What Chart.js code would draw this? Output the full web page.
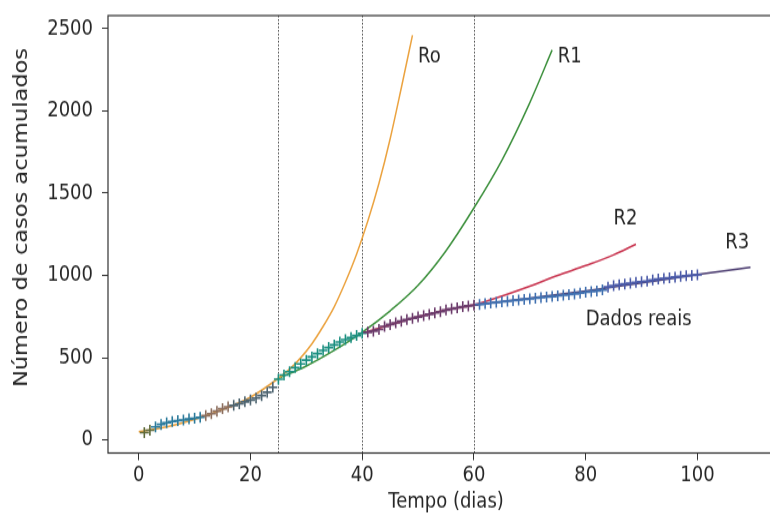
<!DOCTYPE html>
<html>
<head>
<meta charset="utf-8">
<script src="https://cdn.jsdelivr.net/npm/chart.js@4.4.1/dist/chart.umd.min.js"></script>
<style>
  html, body { margin: 0; padding: 0; background: #fff; overflow: hidden; }
  #pagina { width: 770px; height: 516px; overflow: hidden; }
  /* the reference picture is stretched vertically, so the chart is drawn flat and scaled */
  #wrap { width: 800px; height: 430px; transform: scale(1, 1.2); transform-origin: 0 0; }
</style>
</head>
<body>
<div id="pagina"><div id="wrap"><canvas id="grafico" width="800" height="430"></canvas></div></div>
<script>
"use strict";

// casos acumulados, dias 1 a 100
const casos = [
  45, 60, 80, 95, 105, 112, 118, 122, 128, 132,
  138, 148, 160, 175, 190, 202, 210, 220, 232, 243,
  255, 270, 290, 320, 370, 395, 415, 440, 462, 485,
  505, 525, 545, 562, 578, 595, 610, 622, 635, 648,
  655, 662, 672, 690, 702, 712, 722, 732, 740, 748,
  756, 764, 772, 780, 790, 797, 803, 810, 815, 820,
  824, 828, 832, 836, 840, 843, 847, 851, 855, 858,
  862, 866, 869, 872, 876, 880, 884, 888, 893, 898,
  902, 906, 912, 930, 938, 944, 948, 953, 958, 962,
  966, 972, 978, 982, 986, 990, 994, 998, 1001, 1004
];

// curvas ajustadas
const roDias = [0, 5, 10, 15, 20, 25, 27, 29, 31, 33, 35, 37, 39, 41, 43, 45, 47, 49];
const roValores = [50, 80, 125, 185, 260, 375, 430, 500, 585, 690, 810, 960, 1130, 1330, 1560, 1830, 2140, 2460];

const r1Dias = [25, 30, 35, 40, 45, 50, 55, 60, 65, 70, 74];
const r1Valores = [375, 450, 545, 655, 785, 940, 1150, 1410, 1700, 2050, 2370];

const r2Dias = [40, 45, 50, 55, 60, 65, 70, 75, 80, 85, 89];
const r2Valores = [650, 700, 748, 790, 822, 875, 935, 1000, 1060, 1125, 1190];

const r3Dias = [60, 70, 80, 90, 100, 109.5];
const r3Valores = [820, 862, 905, 955, 1005, 1050];

const xTicks = [0, 20, 40, 60, 80, 100];
const yTicks = [0, 500, 1000, 1500, 2000, 2500];
const marcos = [25, 40, 60];

const rotulos = [
  { texto: "Ro", x: 50, y: 2330 },
  { texto: "R1", x: 75, y: 2330 },
  { texto: "R2", x: 85, y: 1345 },
  { texto: "R3", x: 105, y: 1198 },
  { texto: "Dados reais", x: 80, y: 730 }
];

const fonte = { family: "DejaVu Sans", size: 18 };
const corTexto = "#262626";

const pares = (xs, ys) => xs.map((x, i) => ({ x: x, y: ys[i] }));

const corMarcador = function (dia) {
  if (dia <= 2) return "#5e6a3a";
  if (dia <= 11) return "#2b7a9b";
  if (dia <= 16) return "#8c6e5e";
  if (dia <= 24) return "#4e6470";
  if (dia <= 40) return "#1b8f80";
  if (dia <= 60) return "#6b3b6b";
  if (dia <= 83) return "#4070b0";
  return "#4a5aa8";
};

const pontos = casos.map((v, i) => ({ x: i + 1, y: v }));

const curva = (dados, cor) => ({
  type: "line",
  data: dados,
  borderColor: cor,
  borderWidth: 1.5,
  pointRadius: 0,
  fill: false,
  cubicInterpolationMode: "monotone",
  order: 1
});

const moldura = {
  id: "moldura",
  beforeDatasetsDraw(chart) {
    const { ctx, chartArea, scales } = chart;
    ctx.save();
    ctx.strokeStyle = "#222";
    ctx.lineWidth = 0.8;
    ctx.setLineDash([1.5, 1.5]);
    marcos.forEach((m) => {
      const x = Math.round(scales.x.getPixelForValue(m)) + 0.5;
      ctx.beginPath();
      ctx.moveTo(x, chartArea.top);
      ctx.lineTo(x, chartArea.bottom);
      ctx.stroke();
    });
    ctx.restore();
  },
  afterDatasetsDraw(chart) {
    const { ctx, chartArea, scales } = chart;
    ctx.save();
    ctx.fillStyle = corTexto;
    ctx.font = `${fonte.size}px ${fonte.family}`;
    ctx.textBaseline = "middle";
    ctx.textAlign = "left";
    rotulos.forEach((r) => {
      ctx.fillText(r.texto, scales.x.getPixelForValue(r.x), scales.y.getPixelForValue(r.y));
    });
    ctx.strokeStyle = "#333";
    ctx.lineWidth = 1.2;
    ctx.strokeRect(chartArea.left, chartArea.top, chartArea.right - chartArea.left, chartArea.bottom - chartArea.top);

    // título do eixo y, um pouco acima do centro como na figura original
    ctx.translate(22, (chartArea.top + chartArea.bottom) / 2 - 14);
    ctx.rotate(-Math.PI / 2);
    ctx.textAlign = "center";
    ctx.font = `18.8px ${fonte.family}`;
    ctx.fillText("Número de casos acumulados", 0, 0);
    ctx.restore();
  }
};

const eixo = {
  display: true,
  drawOnChartArea: false,
  drawTicks: true,
  tickLength: 6,
  color: "#333",
  lineWidth: 1
};

const semPadding = (s) => {
  s.paddingTop = 0;
  s.paddingBottom = 0;
  s.paddingLeft = 0;
  s.paddingRight = 0;
};

new Chart(document.getElementById("grafico"), {
  type: "scatter",
  data: {
    datasets: [
      {
        label: "Dados reais",
        data: pontos,
        pointStyle: "cross",
        pointRadius: 4.5,
        pointBorderWidth: 1.6,
        pointBorderColor: pontos.map((p) => corMarcador(p.x)),
        pointBackgroundColor: pontos.map((p) => corMarcador(p.x)),
        order: 0
      },
      curva(pares(roDias, roValores), "#eba23e"),
      curva(pares(r1Dias, r1Valores), "#3b8f3b"),
      curva(pares(r2Dias, r2Valores), "#c8344f"),
      curva(pares(r3Dias, r3Valores), "#4b3c70")
    ]
  },
  options: {
    responsive: false,
    animation: false,
    layout: { padding: { left: 0, top: 13, right: 16, bottom: 0 } },
    plugins: { legend: { display: false }, tooltip: { enabled: false } },
    scales: {
      x: {
        type: "linear",
        min: -5.5,
        max: 115.5,
        afterBuildTicks: (s) => { s.ticks = xTicks.map((v) => ({ value: v })); },
        afterFit: (s) => { s.height = 52.5; semPadding(s); },
        grid: eixo,
        border: { display: false },
        ticks: { font: fonte, color: corTexto, padding: 2, maxRotation: 0, callback: (v) => String(v) },
        title: { display: true, text: "Tempo (dias)", font: fonte, color: corTexto, padding: { top: 0, bottom: 0.5 } }
      },
      y: {
        type: "linear",
        min: -79,
        max: 2579,
        afterBuildTicks: (s) => { s.ticks = yTicks.map((v) => ({ value: v })); },
        afterFit: (s) => { s.width = 108; semPadding(s); },
        grid: eixo,
        border: { display: false },
        ticks: { font: fonte, color: corTexto, padding: 9, callback: (v) => String(v) },
        title: { display: false }
      }
    }
  },
  plugins: [moldura]
});
</script>
</body>
</html>
